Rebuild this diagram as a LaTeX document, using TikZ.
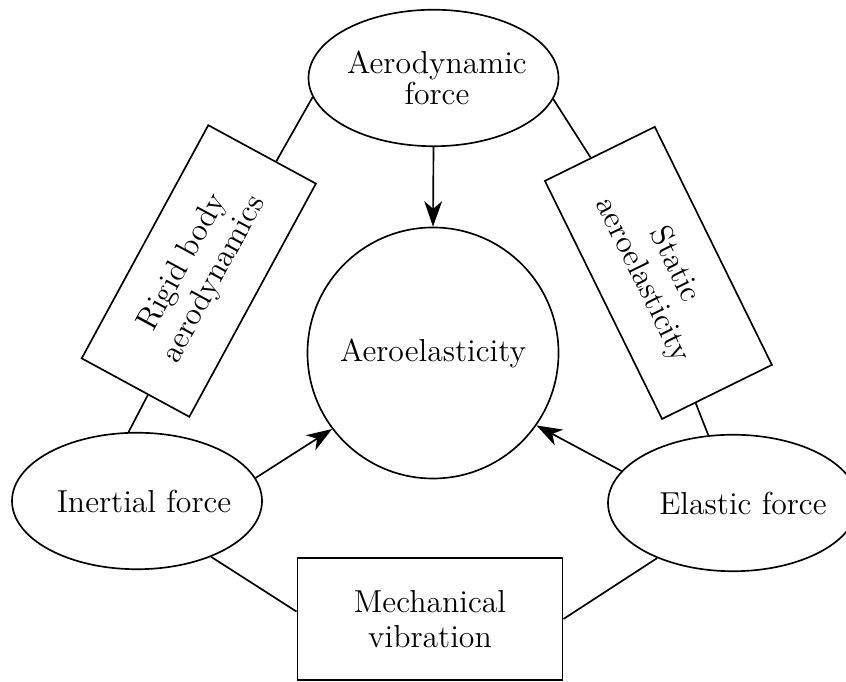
\documentclass[tikz,border=0pt]{standalone}
\usetikzlibrary{shapes.geometric,arrows.meta,calc}
\begin{document}
\begin{tikzpicture}[x=0.392pt,y=0.392pt,
  every node/.style={font=\fontsize{12.45}{13.85}\selectfont},
  ell/.style={ellipse,draw,line width=0.65pt,minimum width=98pt,minimum height=53.5pt,inner sep=0pt,align=center,fill=white},
  box/.style={rectangle,draw,line width=0.65pt,minimum width=104pt,minimum height=48pt,inner sep=0pt,align=center,fill=white},
  circ/.style={circle,draw,line width=0.65pt,minimum size=98.4pt,inner sep=0pt},
  link/.style={line width=0.65pt},
  arr/.style={line width=0.65pt,-{Stealth[length=10pt,width=7pt,inset=3pt]}}]
\useasboundingbox (0,0) rectangle (846,682);
\node[circ] (ae) at (433,329) {Aeroelasticity};
\node[ell,font=\fontsize{12.45}{12}\selectfont] (top) at (433.5,604) {\makebox[0pt]{\hspace*{2.7pt}Aerodynamic}\\\makebox[0pt]{\hspace*{2.7pt}force}};
\node[ell] (in) at (137,181) {\makebox[0pt]{\hspace*{5.5pt}Inertial force}};
\node[ell] (el) at (733,179) {\makebox[0pt]{\hspace*{7.8pt}Elastic force}};
\node[box] (mv) at (430,63) {Mechanical\\vibration};
\node[box,rotate=61.5] (rb) at (198.8,411) {Rigid body\\aerodynamics};
\node[box,rotate=-63.8] (sa) at (658.4,409.1) {Static\\aeroelasticity};
\draw[link] (top.189.4) -- ($(rb.north east)!0.627!(rb.south east)$);
\draw[link] ($(rb.north west)!0.616!(rb.south west)$) -- (in.97.4);
\draw[link] (top.350.5) -- ($(sa.south west)!0.42!(sa.north west)$);
\draw[link] ($(sa.south east)!0.306!(sa.north east)$) -- (el.110.9);
\draw[link] (in.-37) -- ($(mv.north west)!0.44!(mv.south west)$);
\draw[link] (el.216) -- (mv.east);
\draw[arr] (top.south) -- (ae.north);
\draw[arr] (in.11.5) -- (ae.217);
\draw[arr] (el.164.3) -- (ae.325.6);
\end{tikzpicture}
\end{document}
